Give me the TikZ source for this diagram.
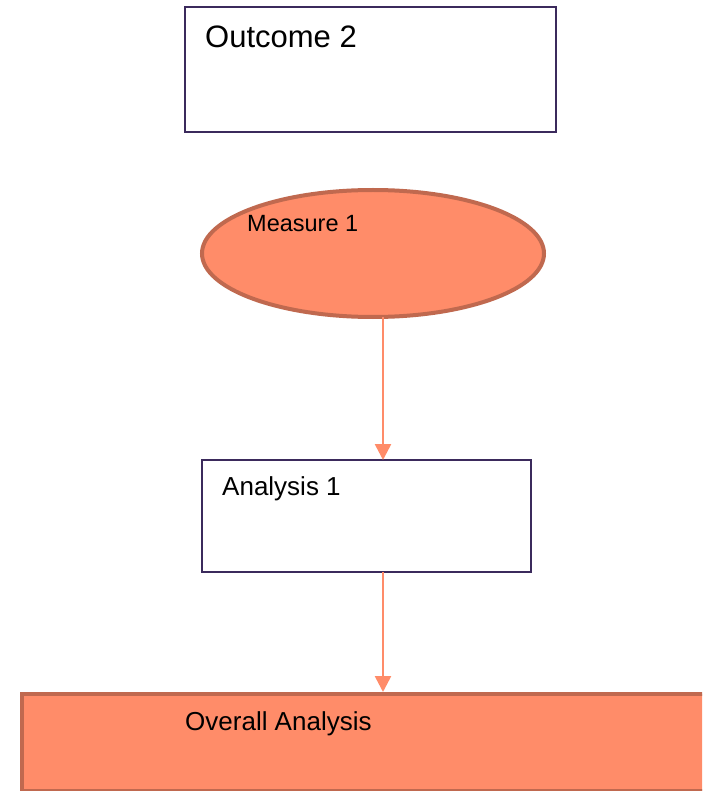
\documentclass[tikz,border=0pt]{standalone}
\usepackage{fontspec}
\setmainfont{Liberation Sans}
\usetikzlibrary{arrows.meta,shapes.geometric}
\definecolor{salmonfill}{HTML}{FF8C69}
\definecolor{salmonedge}{HTML}{C0694F}
\definecolor{boxedge}{HTML}{3B2A5C}
\tikzset{
  plainbox/.style={draw=boxedge, line width=2pt, fill=white, rectangle, inner sep=0pt},
  warmbox/.style={draw=salmonedge, line width=4pt, fill=salmonfill, inner sep=0pt},
  flow/.style={draw=salmonfill, line width=2.6pt, -{Triangle[width=16pt,length=16pt]}},
  caption/.style={anchor=base west, inner sep=0pt, text=black}
}
\begin{document}
\begin{tikzpicture}[x=1pt,y=-1pt]
  \useasboundingbox (0,0) rectangle (702,791);
  \clip (0,0) rectangle (702,791);

  % boxes and ellipse
  \node[plainbox, minimum width=371pt, minimum height=125pt] (outcome) at (370.5,69.5) {};
  \node[warmbox, ellipse, minimum width=342pt, minimum height=127pt] (measure) at (373,253.5) {};
  \node[plainbox, minimum width=329pt, minimum height=112pt] (analysis) at (366.5,516) {};
  \node[warmbox, rectangle, minimum width=700pt, minimum height=97pt] (overall) at (372,742) {};

  % labels
  \node[caption, font=\fontsize{31}{37}\selectfont] (outcometext) at (205,48) {Outcome 2};
  \node[caption, font=\fontsize{23.5}{28}\selectfont] (measuretext) at (247,232) {Measure 1};
  \node[caption, font=\fontsize{26}{31}\selectfont] (analysistext) at (222,495) {Analysis 1};
  \node[caption, font=\fontsize{26}{31}\selectfont] (overalltext) at (185,730) {Overall Analysis};

  % connectors
  \coordinate (m1) at (383,317);
  \coordinate (a1top) at (383,460);
  \coordinate (a1bot) at (383,572);
  \coordinate (oatop) at (383,692);
  \draw[flow] (m1) -- (a1top);
  \draw[flow] (a1bot) -- (oatop);
\end{tikzpicture}
\end{document}
